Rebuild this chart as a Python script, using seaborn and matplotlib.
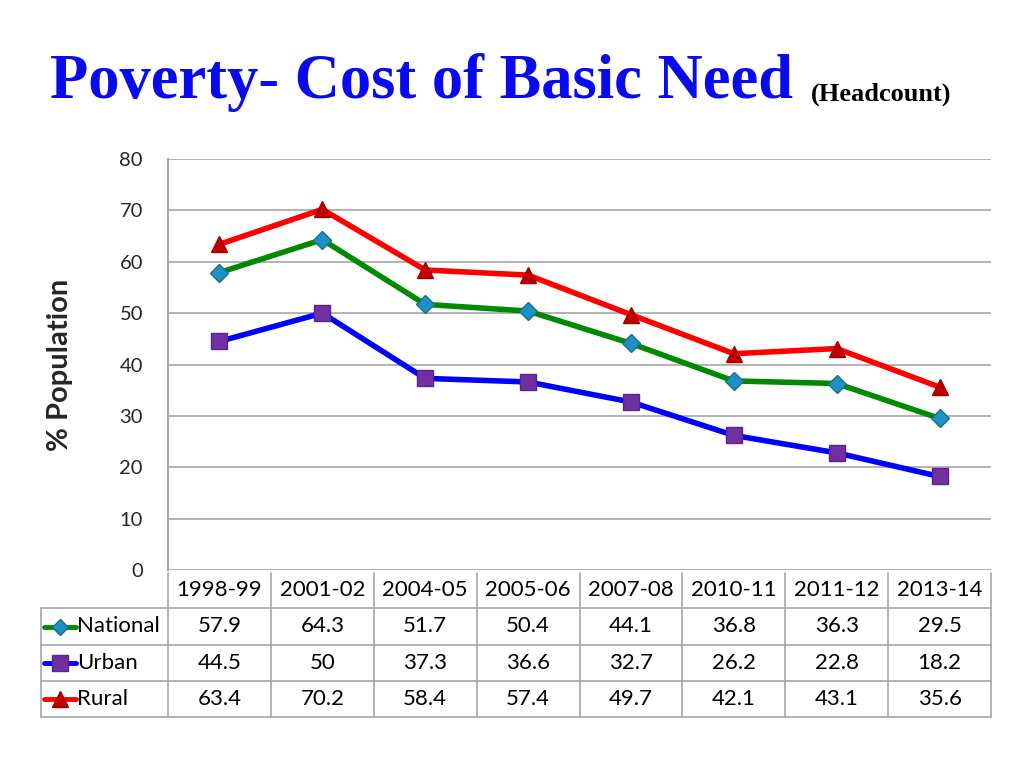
import matplotlib
matplotlib.use("Agg")
import matplotlib.pyplot as plt
import matplotlib.transforms as mtransforms
from matplotlib.lines import Line2D
import seaborn as sns
import pandas as pd

years = ["1998-99", "2001-02", "2004-05", "2005-06", "2007-08", "2010-11", "2011-12", "2013-14"]
national = [57.9, 64.3, 51.7, 50.4, 44.1, 36.8, 36.3, 29.5]
urban = [44.5, 50, 37.3, 36.6, 32.7, 26.2, 22.8, 18.2]
rural = [63.4, 70.2, 58.4, 57.4, 49.7, 42.1, 43.1, 35.6]
national_lbl = ["57.9", "64.3", "51.7", "50.4", "44.1", "36.8", "36.3", "29.5"]
urban_lbl = ["44.5", "50", "37.3", "36.6", "32.7", "26.2", "22.8", "18.2"]
rural_lbl = ["63.4", "70.2", "58.4", "57.4", "49.7", "42.1", "43.1", "35.6"]
series_names = ["National", "Urban", "Rural"]

sns.set_theme(style="white")
plt.rcParams['font.family'] = ['Lato', 'DejaVu Sans']

rows = []
for name, vals in zip(series_names, [national, urban, rural]):
    for i, (y, v) in enumerate(zip(years, vals)):
        rows.append({"idx": i, "year": y, "value": v, "series": name})
df = pd.DataFrame(rows)

styles = {
    "National": dict(color="#008A00", marker="D", mfc="#1F8FC8", mec="#1A6F80", ms=9),
    "Urban": dict(color="#0000FF", marker="s", mfc="#7030A0", mec="#5A2590", ms=12),
    "Rural": dict(color="#FF0000", marker="^", mfc="#C00000", mec="#A00000", ms=12),
}

fig = plt.figure(figsize=(10.24, 7.68), dpi=100)
ax = fig.add_axes([168/1024, 1-570/768, (991-168)/1024, (570-159)/768])

for name in series_names:
    s = styles[name]
    sub = df[df.series == name]
    sns.lineplot(data=sub, x="idx", y="value", ax=ax, color=s["color"], lw=4,
                 marker=s["marker"], markersize=s["ms"], markerfacecolor=s["mfc"],
                 markeredgecolor=s["mec"], markeredgewidth=1, legend=False)

ax.set_xlim(-0.5, len(years) - 0.5)
ax.set_ylim(0, 80)
ax.set_yticks(range(0, 81, 10))
ax.set_xticks([])
ax.set_xlabel("")
ax.set_ylabel("% Population", fontsize=21, fontweight="bold")
ax.yaxis.set_label_coords((73 - 168) / 823, 0.5)
ax.tick_params(axis="y", labelsize=14.5, length=0, pad=18)
ax.grid(axis="y", color="#A6A6A6", lw=1.2)
for sp in ["top", "right", "bottom"]:
    ax.spines[sp].set_visible(False)
ax.spines["left"].set_color("#A6A6A6")
ax.spines["left"].set_linewidth(1.5)

# Data table below the axes
trans = mtransforms.blended_transform_factory(ax.transData, fig.transFigure)
ftrans = fig.transFigure
def fy(py):
    return 1 - py / 768
row_tops = [573, 608, 645, 681, 717]
grid_c = "#A6A6A6"
n = len(years)
for k in range(n + 1):
    xk = k - 0.5
    ax.add_line(Line2D([xk, xk], [fy(573), fy(717)], transform=trans, color=grid_c, lw=1.2, clip_on=False))
for py in row_tops[1:]:
    ax.add_line(Line2D([41/1024, 991/1024], [fy(py), fy(py)], transform=ftrans, color=grid_c, lw=1.2, clip_on=False))
ax.add_line(Line2D([41/1024, 41/1024], [fy(608), fy(717)], transform=ftrans, color=grid_c, lw=1.2, clip_on=False))

for i, y in enumerate(years):
    ax.text(i, fy((573+608)/2), y, transform=trans, ha="center", va="center", fontsize=16, color="black")
labels = [national_lbl, urban_lbl, rural_lbl]
for r, (name, lbls) in enumerate(zip(series_names, labels)):
    yc = fy((row_tops[r+1] + row_tops[r+2]) / 2)
    for i, t in enumerate(lbls):
        ax.text(i, yc, t, transform=trans, ha="center", va="center", fontsize=16, color="black")
    s = styles[name]
    ax.add_line(Line2D([44/1024, 76/1024], [yc, yc], transform=ftrans, color=s["color"], lw=3.5,
                       solid_capstyle="round", clip_on=False))
    ax.add_line(Line2D([60/1024], [yc], transform=ftrans, color=s["color"], lw=0,
                       marker=s["marker"], ms=s["ms"] * 0.95, mfc=s["mfc"], mec=s["mec"], clip_on=False))
    fig.text(77/1024, yc, name, ha="left", va="center", fontsize=16, color="black")

# Title
fig.text(50/1024, fy(82), "Poverty- Cost of Basic Need", fontsize=45, fontweight="bold",
         family="Liberation Serif", color="#0A0AF0", ha="left", va="center")
fig.text(811/1024, fy(94), "(Headcount)", fontsize=19, fontweight="bold",
         family="Liberation Serif", color="black", ha="left", va="center")

fig.savefig("out.png", dpi=100)
